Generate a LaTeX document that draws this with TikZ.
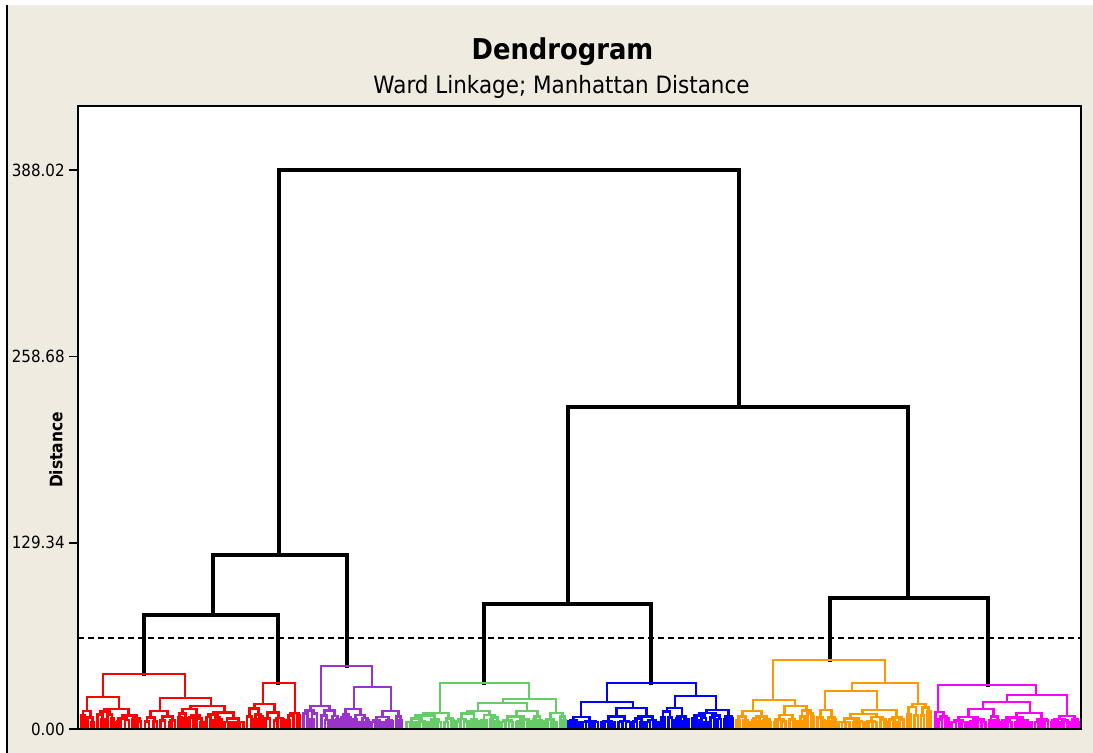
\documentclass[tikz,border=0pt]{standalone}
\usepackage{fontspec}
\setmainfont{DejaVu Sans}[FakeStretch=0.9]
\definecolor{bg}{RGB}{239,235,224}
\definecolor{cpurple}{RGB}{153,51,204}
\definecolor{cgreen}{RGB}{102,204,102}
\definecolor{corange}{RGB}{255,153,0}
\definecolor{cmag}{RGB}{255,0,255}
\pgfmathsetseed{12}
\newcommand\dsplit{%
  \pgfmathsetmacro\cw{\cb-\ca}%
  \pgfmathsetmacro\cm{max(\ca+0.25*\cw,min(\cb-0.25*\cw,2*\cx-(\ca+\cb)/2+(rnd-0.5)*0.2*\cw))}%
  \pgfmathsetmacro\xl{(\ca+\cm)/2}%
  \pgfmathsetmacro\xr{(\cm+\cb)/2}%
  \draw (\cx,\cyp) -- (\cx,\cy) (\xl,\cy) -- (\xr,\cy);
  \dnode{\xl}{\ca}{\cm}{\cy}%
  \dnode{\xr}{\cm}{\cb}{\cy}}
\newcommand\dnodeY[5]{%
  \begingroup
  \edef\cx{#1}\edef\ca{#2}\edef\cb{#3}\edef\cyp{#4}\edef\cy{#5}%
  \dsplit
  \endgroup}
\newcommand\dnode[4]{%
  \begingroup
  \edef\cx{#1}\edef\ca{#2}\edef\cb{#3}\edef\cyp{#4}%
  \pgfmathsetmacro\cw{\cb-\ca}%
  \ifdim\cw pt<4.6pt
    \draw (\cx,\cyp) -- (\cx,729);
  \else
    \pgfmathsetmacro\cy{max(\cyp,min(722,\cyp+(729-\cyp)*(0.12+0.28*rnd)))}%
    \dsplit
  \fi
  \endgroup}
\begin{document}
\begin{tikzpicture}[x=0.75pt,y=-0.75pt,
  blk/.style={line width=2.3pt,black,line cap=rect},
  clr/.style={line width=2.1pt,line cap=rect},
  tick/.style={anchor=east,inner sep=0pt,font=\fontsize{12.6}{14}\selectfont}]
\useasboundingbox (0,0) rectangle (1093,753);
\fill[bg] (7,5) rectangle (1093,753);
\draw[line width=1.1pt] (7,5) -- (7,753);
\fill[white] (78,106) rectangle (1081,729);
% titles
\node[anchor=base,inner sep=0pt,font=\bfseries\fontsize{21.5}{24}\selectfont] (title) at (562.5,60) {Dendrogram};
\node[anchor=base,inner sep=0pt,font=\fontsize{17.9}{20}\selectfont] (sub) at (561.5,93) {Ward Linkage; Manhattan Distance};
% axis
\node[rotate=90,inner sep=0pt,font=\bfseries\fontsize{12.9}{14}\selectfont] (ylab) at (56,450) {Distance};
\node[tick] (t4) at (65,170) {388.02};
\node[tick] (t3) at (65,356.3) {258.68};
\node[tick] (t2) at (65,542.7) {129.34};
\node[tick] (t1) at (65,729) {0.00};
\foreach \yy in {170,356.3,542.7,729} \draw[line width=1.2pt] (69,\yy) -- (78,\yy);
% dendrogram
\begin{scope}
\clip (78,100) rectangle (1081,729.5);
\draw[blk] (279,555) -- (279,170) -- (739,170) -- (739,407);
\draw[blk] (213,615) -- (213,555) -- (347,555) -- (347,666);
\draw[blk] (144,674) -- (144,615) -- (278,615) -- (278,683);
\draw[blk] (568,604) -- (568,407) -- (908,407) -- (908,598);
\draw[blk] (484,683) -- (484,604) -- (651,604) -- (651,683);
\draw[blk] (830,660) -- (830,598) -- (988,598) -- (988,685);
% red
\begin{scope}[clr,color=red]
\draw (103,697) -- (103,674) -- (185,674) -- (185,698);
\draw (87,697) -- (119,697);
\draw (160,698) -- (211,698);
\dnodeY{87}{80}{95}{697}{711}
\dnodeY{119}{95}{143}{697}{709}
\dnodeY{160}{143}{177}{698}{711}
\dnodeY{211}{177}{245}{698}{706}
\draw (263,683) -- (295,683);
\dnodeY{263}{245}{285}{683}{704}
\dnodeY{295}{285}{301}{683}{713}
\end{scope}
% purple
\begin{scope}[clr,color=cpurple]
\draw (321,666) -- (372,666);
\dnodeY{321}{302}{340}{666}{706}
\draw (372,666) -- (372,687);
\draw (354,687) -- (391,687);
\dnodeY{354}{340}{370}{687}{709}
\dnodeY{391}{370}{403}{687}{711}
\end{scope}
% green
\begin{scope}[clr,color=cgreen]
\draw (440,683) -- (529,683);
\dnodeY{440}{405}{455}{683}{713}
\draw (529,683) -- (529,699);
\draw (503,699) -- (556,699);
\draw (503,699) -- (503,703);
\draw (478,703) -- (527,703);
\dnodeY{478}{455}{500}{703}{711}
\dnodeY{527}{500}{543}{703}{711}
\dnodeY{556}{543}{567}{699}{713}
\end{scope}
% blue
\begin{scope}[clr,color=blue]
\draw (607,683) -- (696,683);
\draw (607,683) -- (607,702);
\draw (581,702) -- (633,702);
\dnodeY{581}{567}{600}{702}{717}
\dnodeY{633}{600}{660}{702}{708}
\draw (696,683) -- (696,696);
\draw (675,696) -- (716,696);
\dnodeY{675}{660}{690}{696}{708}
\dnodeY{716}{690}{734}{696}{710}
\end{scope}
% orange
\begin{scope}[clr,color=corange]
\draw (773,660) -- (885,660);
\draw (773,660) -- (773,700);
\draw (753,700) -- (795,700);
\dnodeY{753}{735}{772}{700}{711}
\dnodeY{795}{772}{815}{700}{706}
\draw (885,660) -- (885,683);
\draw (852,683) -- (918,683);
\draw (852,683) -- (852,691);
\draw (825,691) -- (877,691);
\dnodeY{825}{815}{837}{691}{710}
\dnodeY{877}{837}{905}{691}{710}
\dnodeY{918}{905}{932}{683}{704}
\end{scope}
% magenta
\begin{scope}[clr,color=cmag]
\draw (938,685) -- (1036,685);
\dnodeY{938}{933}{950}{685}{712}
\draw (1036,685) -- (1036,695);
\draw (1007,695) -- (1067,695);
\draw (1007,695) -- (1007,702);
\draw (983,702) -- (1030,702);
\dnodeY{983}{950}{1000}{702}{709}
\dnodeY{1030}{1000}{1050}{702}{713}
\dnodeY{1067}{1050}{1080}{695}{716}
\end{scope}
\end{scope}
% cut line
\draw[line width=1.4pt,dash pattern=on 4.8pt off 2.7pt] (78,637.7) -- (1081,637.7);
% frame
\draw[line width=1.5pt] (78,106) rectangle (1081,729);
\end{tikzpicture}
\end{document}
